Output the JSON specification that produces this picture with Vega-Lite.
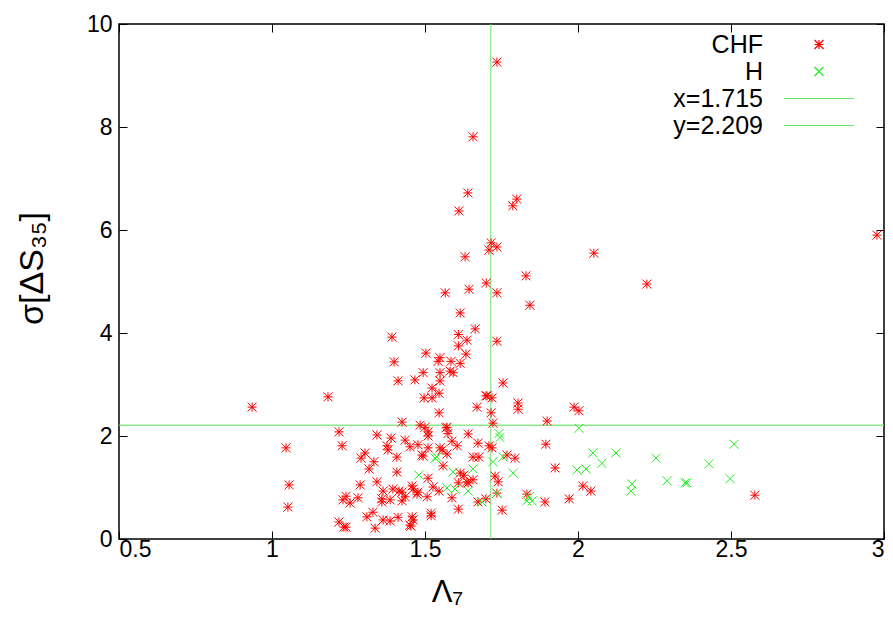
{
  "$schema": "https://vega.github.io/schema/vega-lite/v6.json",
  "width": 765,
  "height": 515,
  "autosize": "none",
  "padding": {"left": 119, "top": 24, "right": 9, "bottom": 84},
  "background": "white",
  "config": {
    "font": "Liberation Sans",
    "view": {"stroke": "#000000", "strokeWidth": 1.5},
    "axis": {
      "grid": false,
      "domain": false,
      "tickColor": "#000000",
      "tickSize": -8,
      "tickWidth": 1,
      "labelColor": "#000000",
      "labelFontSize": 23,
      "labelFont": "Liberation Sans",
      "titleColor": "#000000",
      "titleFont": "Liberation Sans",
      "titleFontWeight": "normal",
      "titleFontSize": 28
    }
  },
  "datasets": {
    "pts": [
      {"x": 1.735, "y": 9.26, "s": "CHF"}, {"x": 1.657, "y": 7.81, "s": "CHF"}, {"x": 1.8, "y": 6.6, "s": "CHF"}, {"x": 1.787, "y": 6.47, "s": "CHF"},
      {"x": 1.64, "y": 6.72, "s": "CHF"}, {"x": 1.611, "y": 6.37, "s": "CHF"}, {"x": 1.716, "y": 5.75, "s": "CHF"}, {"x": 1.735, "y": 5.67, "s": "CHF"},
      {"x": 1.709, "y": 5.61, "s": "CHF"}, {"x": 1.631, "y": 5.48, "s": "CHF"}, {"x": 2.052, "y": 5.55, "s": "CHF"}, {"x": 1.83, "y": 5.11, "s": "CHF"},
      {"x": 1.7, "y": 4.97, "s": "CHF"}, {"x": 1.566, "y": 4.78, "s": "CHF"}, {"x": 1.644, "y": 4.85, "s": "CHF"}, {"x": 1.735, "y": 4.78, "s": "CHF"},
      {"x": 1.843, "y": 4.54, "s": "CHF"}, {"x": 2.225, "y": 4.95, "s": "CHF"}, {"x": 2.977, "y": 5.9, "s": "CHF"}, {"x": 1.615, "y": 4.39, "s": "CHF"},
      {"x": 1.664, "y": 4.08, "s": "CHF"}, {"x": 1.609, "y": 3.97, "s": "CHF"}, {"x": 1.637, "y": 3.86, "s": "CHF"}, {"x": 1.735, "y": 3.84, "s": "CHF"},
      {"x": 1.609, "y": 3.75, "s": "CHF"}, {"x": 1.503, "y": 3.61, "s": "CHF"}, {"x": 1.634, "y": 3.59, "s": "CHF"}, {"x": 1.549, "y": 3.52, "s": "CHF"},
      {"x": 1.543, "y": 3.45, "s": "CHF"}, {"x": 1.585, "y": 3.45, "s": "CHF"}, {"x": 1.615, "y": 3.41, "s": "CHF"}, {"x": 1.494, "y": 3.23, "s": "CHF"},
      {"x": 1.549, "y": 3.23, "s": "CHF"}, {"x": 1.582, "y": 3.26, "s": "CHF"}, {"x": 1.592, "y": 3.23, "s": "CHF"}, {"x": 1.467, "y": 3.09, "s": "CHF"},
      {"x": 1.549, "y": 3.07, "s": "CHF"}, {"x": 1.755, "y": 3.03, "s": "CHF"}, {"x": 1.523, "y": 2.93, "s": "CHF"}, {"x": 1.546, "y": 2.83, "s": "CHF"},
      {"x": 1.497, "y": 2.74, "s": "CHF"}, {"x": 1.523, "y": 2.74, "s": "CHF"}, {"x": 1.699, "y": 2.78, "s": "CHF"}, {"x": 1.719, "y": 2.74, "s": "CHF"},
      {"x": 1.67, "y": 2.56, "s": "CHF"}, {"x": 1.804, "y": 2.64, "s": "CHF"}, {"x": 1.804, "y": 2.52, "s": "CHF"}, {"x": 1.546, "y": 2.45, "s": "CHF"},
      {"x": 1.716, "y": 2.45, "s": "CHF"}, {"x": 1.987, "y": 2.56, "s": "CHF"}, {"x": 2.003, "y": 2.49, "s": "CHF"}, {"x": 1.899, "y": 2.29, "s": "CHF"},
      {"x": 1.722, "y": 2.25, "s": "CHF"}, {"x": 1.425, "y": 2.27, "s": "CHF"}, {"x": 1.484, "y": 2.21, "s": "CHF"}, {"x": 1.5, "y": 2.17, "s": "CHF"},
      {"x": 1.51, "y": 2.08, "s": "CHF"}, {"x": 1.51, "y": 2.0, "s": "CHF"}, {"x": 1.572, "y": 2.17, "s": "CHF"}, {"x": 1.575, "y": 2.05, "s": "CHF"},
      {"x": 1.641, "y": 2.04, "s": "CHF"}, {"x": 1.435, "y": 1.92, "s": "CHF"}, {"x": 1.588, "y": 1.9, "s": "CHF"}, {"x": 1.605, "y": 1.81, "s": "CHF"},
      {"x": 1.673, "y": 1.86, "s": "CHF"}, {"x": 1.709, "y": 1.81, "s": "CHF"}, {"x": 1.719, "y": 1.77, "s": "CHF"}, {"x": 1.895, "y": 1.84, "s": "CHF"},
      {"x": 1.451, "y": 1.79, "s": "CHF"}, {"x": 1.477, "y": 1.83, "s": "CHF"}, {"x": 1.51, "y": 1.77, "s": "CHF"}, {"x": 1.549, "y": 1.77, "s": "CHF"},
      {"x": 1.556, "y": 1.73, "s": "CHF"}, {"x": 1.49, "y": 1.63, "s": "CHF"}, {"x": 1.494, "y": 1.61, "s": "CHF"}, {"x": 1.572, "y": 1.65, "s": "CHF"},
      {"x": 1.657, "y": 1.59, "s": "CHF"}, {"x": 1.676, "y": 1.59, "s": "CHF"}, {"x": 1.768, "y": 1.63, "s": "CHF"}, {"x": 1.794, "y": 1.57, "s": "CHF"},
      {"x": 1.559, "y": 1.42, "s": "CHF"}, {"x": 1.925, "y": 1.38, "s": "CHF"}, {"x": 1.729, "y": 1.22, "s": "CHF"}, {"x": 1.51, "y": 1.18, "s": "CHF"},
      {"x": 1.615, "y": 1.28, "s": "CHF"}, {"x": 1.627, "y": 1.24, "s": "CHF"}, {"x": 1.609, "y": 1.09, "s": "CHF"}, {"x": 1.637, "y": 1.11, "s": "CHF"},
      {"x": 1.657, "y": 1.15, "s": "CHF"}, {"x": 1.641, "y": 1.09, "s": "CHF"}, {"x": 1.739, "y": 1.11, "s": "CHF"}, {"x": 2.016, "y": 1.03, "s": "CHF"},
      {"x": 2.042, "y": 0.93, "s": "CHF"}, {"x": 1.461, "y": 0.97, "s": "CHF"}, {"x": 1.477, "y": 0.91, "s": "CHF"}, {"x": 1.526, "y": 1.01, "s": "CHF"},
      {"x": 1.546, "y": 0.93, "s": "CHF"}, {"x": 1.425, "y": 0.91, "s": "CHF"}, {"x": 1.435, "y": 0.82, "s": "CHF"}, {"x": 1.474, "y": 0.87, "s": "CHF"},
      {"x": 1.507, "y": 0.82, "s": "CHF"}, {"x": 1.735, "y": 0.89, "s": "CHF"}, {"x": 1.833, "y": 0.87, "s": "CHF"}, {"x": 1.588, "y": 0.8, "s": "CHF"},
      {"x": 1.699, "y": 0.78, "s": "CHF"}, {"x": 1.673, "y": 0.72, "s": "CHF"}, {"x": 1.892, "y": 0.72, "s": "CHF"}, {"x": 1.971, "y": 0.78, "s": "CHF"},
      {"x": 1.609, "y": 0.58, "s": "CHF"}, {"x": 1.752, "y": 0.56, "s": "CHF"}, {"x": 1.52, "y": 0.5, "s": "CHF"}, {"x": 1.52, "y": 0.45, "s": "CHF"},
      {"x": 1.458, "y": 0.43, "s": "CHF"}, {"x": 1.461, "y": 0.37, "s": "CHF"}, {"x": 1.451, "y": 0.27, "s": "CHF"}, {"x": 2.578, "y": 0.85, "s": "CHF"},
      {"x": 1.392, "y": 3.92, "s": "CHF"}, {"x": 1.399, "y": 3.44, "s": "CHF"}, {"x": 1.412, "y": 3.07, "s": "CHF"}, {"x": 1.183, "y": 2.76, "s": "CHF"},
      {"x": 0.935, "y": 2.56, "s": "CHF"}, {"x": 1.219, "y": 2.08, "s": "CHF"}, {"x": 1.343, "y": 2.02, "s": "CHF"}, {"x": 1.389, "y": 1.96, "s": "CHF"},
      {"x": 1.229, "y": 1.81, "s": "CHF"}, {"x": 1.046, "y": 1.77, "s": "CHF"}, {"x": 1.376, "y": 1.81, "s": "CHF"}, {"x": 1.379, "y": 1.73, "s": "CHF"},
      {"x": 1.304, "y": 1.67, "s": "CHF"}, {"x": 1.291, "y": 1.57, "s": "CHF"}, {"x": 1.408, "y": 1.59, "s": "CHF"}, {"x": 1.333, "y": 1.5, "s": "CHF"},
      {"x": 1.317, "y": 1.36, "s": "CHF"}, {"x": 1.408, "y": 1.3, "s": "CHF"}, {"x": 1.056, "y": 1.05, "s": "CHF"}, {"x": 1.288, "y": 1.05, "s": "CHF"},
      {"x": 1.343, "y": 1.11, "s": "CHF"}, {"x": 1.458, "y": 1.03, "s": "CHF"}, {"x": 1.363, "y": 0.93, "s": "CHF"}, {"x": 1.395, "y": 0.97, "s": "CHF"},
      {"x": 1.415, "y": 0.93, "s": "CHF"}, {"x": 1.242, "y": 0.83, "s": "CHF"}, {"x": 1.232, "y": 0.76, "s": "CHF"}, {"x": 1.255, "y": 0.7, "s": "CHF"},
      {"x": 1.281, "y": 0.8, "s": "CHF"}, {"x": 1.359, "y": 0.78, "s": "CHF"}, {"x": 1.386, "y": 0.76, "s": "CHF"}, {"x": 1.425, "y": 0.74, "s": "CHF"},
      {"x": 1.052, "y": 0.62, "s": "CHF"}, {"x": 1.33, "y": 0.52, "s": "CHF"}, {"x": 1.31, "y": 0.43, "s": "CHF"}, {"x": 1.363, "y": 0.37, "s": "CHF"},
      {"x": 1.386, "y": 0.35, "s": "CHF"}, {"x": 1.219, "y": 0.33, "s": "CHF"}, {"x": 1.235, "y": 0.23, "s": "CHF"}, {"x": 1.242, "y": 0.23, "s": "CHF"},
      {"x": 1.337, "y": 0.21, "s": "CHF"}, {"x": 1.454, "y": 0.25, "s": "CHF"}, {"x": 1.569, "y": 2.16, "s": "CHF"}, {"x": 1.703, "y": 2.78, "s": "CHF"},
      {"x": 1.359, "y": 0.72, "s": "CHF"}, {"x": 1.412, "y": 0.42, "s": "CHF"},
      {"x": 1.742, "y": 2.05, "s": "H"}, {"x": 1.745, "y": 1.97, "s": "H"}, {"x": 2.003, "y": 2.15, "s": "H"}, {"x": 1.722, "y": 1.5, "s": "H"},
      {"x": 1.755, "y": 1.59, "s": "H"}, {"x": 1.788, "y": 1.28, "s": "H"}, {"x": 1.539, "y": 1.59, "s": "H"}, {"x": 1.657, "y": 1.36, "s": "H"},
      {"x": 1.592, "y": 1.3, "s": "H"}, {"x": 1.48, "y": 1.24, "s": "H"}, {"x": 1.572, "y": 0.99, "s": "H"}, {"x": 1.598, "y": 0.97, "s": "H"},
      {"x": 1.641, "y": 0.93, "s": "H"}, {"x": 1.735, "y": 0.89, "s": "H"}, {"x": 1.686, "y": 0.72, "s": "H"}, {"x": 1.833, "y": 0.74, "s": "H"},
      {"x": 1.85, "y": 0.74, "s": "H"}, {"x": 1.84, "y": 0.82, "s": "H"}, {"x": 1.997, "y": 1.34, "s": "H"}, {"x": 2.026, "y": 1.36, "s": "H"},
      {"x": 2.049, "y": 1.67, "s": "H"}, {"x": 2.124, "y": 1.67, "s": "H"}, {"x": 2.078, "y": 1.47, "s": "H"}, {"x": 2.255, "y": 1.57, "s": "H"},
      {"x": 2.176, "y": 1.07, "s": "H"}, {"x": 2.173, "y": 0.93, "s": "H"}, {"x": 2.291, "y": 1.13, "s": "H"}, {"x": 2.35, "y": 1.09, "s": "H"},
      {"x": 2.356, "y": 1.09, "s": "H"}, {"x": 2.428, "y": 1.46, "s": "H"}, {"x": 2.51, "y": 1.84, "s": "H"}, {"x": 2.497, "y": 1.17, "s": "H"},
      {"x": 1.533, "y": 1.57, "s": "H"}
    ],
    "vline": [{"v": 1.715}],
    "hline": [{"v": 2.209}]
  },
  "layer": [
    {
      "data": {"name": "vline"},
      "mark": {"type": "rule", "color": "#6fe36f", "strokeWidth": 1},
      "encoding": {
        "x": {"field": "v", "type": "quantitative",
              "scale": {"domain": [0.5, 3], "nice": false, "zero": false},
              "axis": {"orient": "top", "labels": false, "title": null, "values": [0.5, 1, 1.5, 2, 2.5, 3]}}
      }
    },
    {
      "data": {"name": "hline"},
      "mark": {"type": "rule", "color": "#6fe36f", "strokeWidth": 1.5, "opacity": 0.8},
      "encoding": {
        "y": {"field": "v", "type": "quantitative",
              "scale": {"domain": [0, 10], "nice": false, "zero": false},
              "axis": {"orient": "right", "labels": false, "title": null, "values": [0, 2, 4, 6, 8, 10]}}
      }
    },
    {
      "data": {"name": "pts"},
      "mark": {"type": "point", "filled": false, "strokeWidth": 1, "opacity": 1, "size": 81},
      "encoding": {
        "x": {"field": "x", "type": "quantitative",
              "axis": {"orient": "bottom", "title": "Λ₇", "values": [0.5, 1, 1.5, 2, 2.5, 3], "format": "~g",
                       "labelPadding": 7, "titleX": 328, "titleY": 62, "titleBaseline": "alphabetic", "titleFontSize": 31}},
        "y": {"field": "y", "type": "quantitative",
              "axis": {"orient": "left", "title": "σ[ΔS₃₅]", "values": [0, 2, 4, 6, 8, 10],
                       "labelPadding": 15, "titleX": -77, "titleY": 244, "titleBaseline": "alphabetic", "titleFontSize": 34}},
        "color": {"field": "s", "type": "nominal",
                  "scale": {"domain": ["CHF", "H", "x=1.715", "y=2.209"], "range": ["#ff0000", "#22ee22", "#6fe36f", "#6fe36f"]},
                  "legend": {"title": null, "orient": "none", "legendX": 687.5, "legendY": 8, "labelAlign": "right", "labelOffset": -68.5,
                             "labelFontSize": 25, "labelColor": "#000000", "labelFont": "Liberation Sans", "padding": 0, "rowPadding": 1,
                             "symbolStrokeWidth": 1.2, "symbolSize": 81}},
        "shape": {"field": "s", "type": "nominal",
                  "scale": {"domain": ["CHF", "H", "x=1.715", "y=2.209"],
                            "range": ["M-1,0L1,0M0,-1L0,1M-1,-1L1,1M-1,1L1,-1", "M-1,-1L1,1M-1,1L1,-1", "M-7.8,0L7.8,0", "M-7.8,0L7.8,0"]}}
      }
    }
  ]
}
